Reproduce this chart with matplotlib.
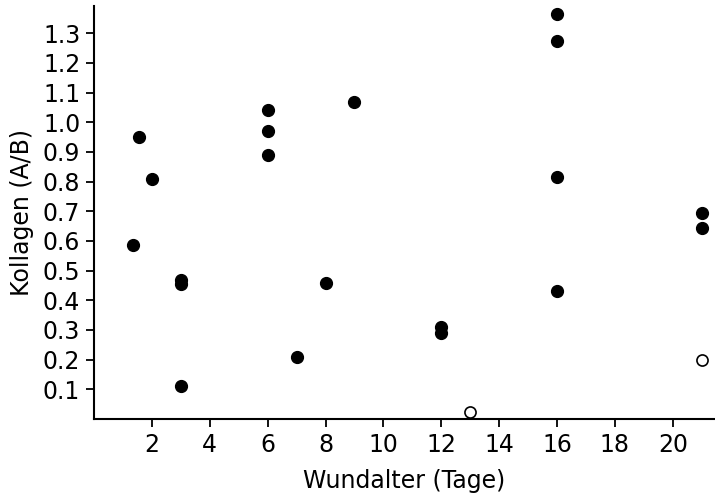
import matplotlib
matplotlib.use('Agg')
import matplotlib.pyplot as plt

# Wundalter (Tage) vs. Kollagen (A/B)
filled_x = [1.33, 1.56, 2, 3, 3, 3, 6, 6, 6, 7, 8, 9, 12, 12, 16, 16, 16, 16, 21, 21]
filled_y = [0.585, 0.95, 0.81, 0.455, 0.47, 0.11, 1.04, 0.97, 0.89, 0.21, 0.46, 1.07,
            0.31, 0.29, 1.365, 1.275, 0.815, 0.43, 0.695, 0.645]
open_x = [13, 21]
open_y = [0.022, 0.2]

x_ticks = [2, 4, 6, 8, 10, 12, 14, 16, 18, 20]
y_ticks = [0.1, 0.2, 0.3, 0.4, 0.5, 0.6, 0.7, 0.8, 0.9, 1.0, 1.1, 1.2, 1.3]

plt.rcParams['font.family'] = ['DejaVu Sans']

fig = plt.figure(figsize=(7.15, 4.97), dpi=100)
ax = fig.add_axes([0.1316, 0.157, 0.8684, 0.8315])

ax.plot(filled_x, filled_y, 'o', color='black', markersize=8.5, clip_on=False)
ax.plot(open_x, open_y, 'o', markerfacecolor='white', markeredgecolor='black',
        markeredgewidth=1.2, markersize=8, clip_on=False, zorder=3)

ax.set_xlim(0, 21.46)
ax.set_ylim(0, 1.393)
ax.set_xticks(x_ticks)
ax.set_xticklabels([str(t) for t in x_ticks])
ax.set_yticks(y_ticks)
ax.set_yticklabels([f"{t:.1f}" for t in y_ticks])

for side in ['top', 'right']:
    ax.spines[side].set_visible(False)
for side in ['left', 'bottom']:
    ax.spines[side].set_linewidth(1.5)

ax.tick_params(direction='out', length=6, width=1.3, labelsize=17, pad=4)
ax.set_xlabel('Wundalter (Tage)', fontsize=17, labelpad=9)
ax.set_ylabel('Kollagen (A/B)', fontsize=17, labelpad=6)

plt.savefig('out.png', dpi=100)
plt.close()
